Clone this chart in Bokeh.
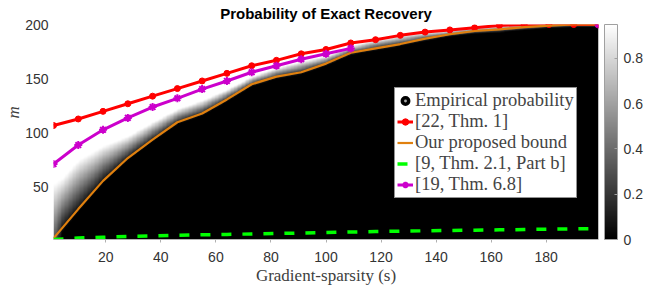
import numpy as np
from math import nan
from bokeh.plotting import figure
from bokeh.models import (ColumnDataSource, LinearColorMapper, ColorBar, FixedTicker,
                          Legend, LegendItem, Range1d, Title)
from bokeh.embed import file_html
from bokeh.resources import INLINE

# ---------------- data ----------------
s_vals = [1, 10, 19, 28, 37, 46, 55, 64, 73, 82, 91, 100, 109, 118, 127, 136, 145, 154, 163, 172, 181, 190, 199]
thm22 = [107, 113, 120, 127, 134, 141, 148, 155, 162, 167, 173, 177, 183, 186, 190, 193, 195, 197, 199, 200, 200, 200, 200]
proposed = [3, 30, 56, 77, 94, 110, 118, 131, 145, 152, 156, 164, 174, 178, 182, 187, 191, 194, 195.5, 197.5, 199, 200, 200]
thm21b = [2, 3.3, 4.1, 4.8, 5.4, 5.9, 6.3, 6.7, 7.1, 7.5, 8, 8.5, 8.9, 9.3, 9.7, 10, 10.3, 10.6, 10.9, 11.2, 11.5, 11.8, 12]
thm68 = [71.5, 89, 103, 114, 124, 132, 140.5, 148, 156, 162, 168, 173, 178,
         nan, nan, nan, nan, nan, nan, nan, nan, nan, 200]

# empirical probability: transition band (m where probability leaves 0 / reaches max) per s
heat_s = [1, 4, 10, 19, 28, 37, 46, 55, 64, 73, 82, 91, 100, 109, 118, 127, 136, 145, 154, 163, 172, 181, 190, 199]
heat_lo = [-25, 8, 27, 54, 75, 92, 108, 116, 129, 143, 150, 154, 162, 172, 176, 180, 185, 189, 192, 193, 195, 197, 198, 198]
heat_hi = [53, 58, 75, 88, 97, 110, 122, 130, 140, 152, 160, 166, 171, 180, 186, 190, 193, 195, 197, 199, 201, 202, 202, 202]
p_max = 0.95

x_ticks = [20, 40, 60, 80, 100, 120, 140, 160, 180]
y_ticks = [50, 100, 150, 200]
cb_ticks = [0, 0.2, 0.4, 0.6, 0.8]

# ---------------- image table ----------------
gs = np.linspace(1, 199, 400)
gm = np.linspace(2, 200, 400)
lo = np.interp(gs, heat_s, heat_lo)
hi = np.interp(gs, heat_s, heat_hi)
prob = p_max * np.clip((gm[:, None] - lo[None, :]) / (hi - lo)[None, :], 0, 1)

gray = ['#%02x%02x%02x' % (i, i, i) for i in range(256)]
mapper = LinearColorMapper(palette=gray, low=0, high=p_max)

p = figure(width=658, height=289, x_range=Range1d(1, 199), y_range=Range1d(2, 200),
           output_backend="svg", toolbar_location=None,
           min_border_left=53, min_border_right=60, min_border_top=23, min_border_bottom=50)
p.grid.visible = False
p.outline_line_color = None
p.background_fill_color = 'white'

p.title.text = 'Probability of Exact Recovery'
p.title.align = 'center'
p.title.text_font = 'Liberation Sans'
p.title.text_font_style = 'bold'
p.title.text_font_size = '15px'
p.title.text_color = 'black'
p.title.text_line_height = 0.75
p.title.standoff = 5

p.image(image=[prob], x=1, y=2, dw=198, dh=198, color_mapper=mapper)

src = ColumnDataSource(dict(s=s_vals, a=thm22, b=proposed, c=thm21b, d=thm68))

ring = p.scatter(x=[nan], y=[nan], size=10, fill_color='#a8a8a8', line_color='black', line_width=3.5)
red_l = p.line('s', 'a', source=src, line_color='#ff0000', line_width=3)
red_p = p.scatter('s', 'a', source=src, size=6, fill_color='#ff0000', line_color='#ff0000')
org_l = p.line('s', 'b', source=src, line_color='#e0800e', line_width=2.2)
grn_l = p.line('s', 'c', source=src, line_color='#00ff00', line_width=3.5, line_dash="10 11")
mag_l = p.line('s', 'd', source=src, line_color='#cc00cc', line_width=3)
mag_p = p.scatter('s', 'd', source=src, marker='asterisk', size=8, line_color='#cc00cc', line_width=2)

# axes
ax = p.xaxis[0]
ax.ticker = FixedTicker(ticks=x_ticks)
ax.axis_line_color = '#b0b0b0'
ax.major_tick_line_color = '#b0b0b0'
ax.major_tick_in = 0
ax.major_tick_out = 3
ax.minor_tick_line_color = None
ax.major_label_standoff = 9
ax.major_label_text_font = 'Liberation Sans'
ax.major_label_text_font_size = '14px'
ax.major_label_text_color = '#333333'
ax.axis_label = 'Gradient-sparsity (s)'
ax.axis_label_text_font = 'Liberation Serif'
ax.axis_label_text_font_style = 'normal'
ax.axis_label_text_font_size = '17px'
ax.axis_label_text_color = '#404040'
ax.axis_label_standoff = 1

ay = p.yaxis[0]
ay.ticker = FixedTicker(ticks=y_ticks)
ay.axis_line_color = None
ay.major_tick_in = 0
ay.major_tick_out = 0
ay.minor_tick_line_color = None
ay.major_label_standoff = 5
ay.major_label_text_font = 'Liberation Sans'
ay.major_label_text_font_size = '14px'
ay.major_label_text_color = '#333333'

p.add_layout(Title(text='m', align='left', offset=121, standoff=0,
                   text_font='Liberation Serif', text_font_style='italic',
                   text_font_size='17px', text_color='#404040'), 'left')

# colorbar
cb = ColorBar(color_mapper=mapper, ticker=FixedTicker(ticks=cb_ticks), width=13,
              location=(6, 0), padding=0, margin=0, label_standoff=6,
              major_label_text_font='Liberation Sans', major_label_text_font_size='14px',
              major_label_text_color='#333333',
              bar_line_color='#a0a0a0', major_tick_line_color='#a0a0a0',
              major_tick_in=3, major_tick_out=0, minor_tick_line_color=None,
              background_fill_alpha=0, border_line_color=None)
p.add_layout(cb, 'right')

legend = Legend(items=[
    LegendItem(label='Empirical probability', renderers=[ring]),
    LegendItem(label='[22, Thm. 1]', renderers=[red_l, red_p]),
    LegendItem(label='Our proposed bound', renderers=[org_l]),
    LegendItem(label='[9, Thm. 2.1, Part b]', renderers=[grn_l]),
    LegendItem(label='[19, Thm. 6.8]', renderers=[mag_l, mag_p]),
], location=(341, 41), padding=2, spacing=0, margin=0, glyph_width=16, glyph_height=21,
    label_height=21, label_standoff=2, label_text_font='Liberation Serif',
    label_text_font_size='18.5px', border_line_color='#262626', border_line_width=1,
    background_fill_color='white', background_fill_alpha=1)
p.add_layout(legend)

open("out.html", "w").write(file_html(p, INLINE))
